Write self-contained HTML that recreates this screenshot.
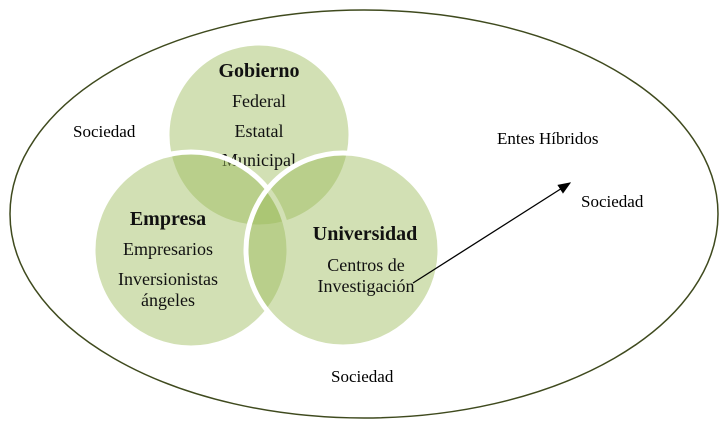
<!DOCTYPE html>
<html><head><style>body{margin:0;background:#fff}svg{display:block}</style></head><body>
<svg width="727" height="430" viewBox="0 0 727 430" font-family="Liberation Serif, serif">
<defs><marker id="a" markerWidth="10" markerHeight="8" refX="9" refY="4" orient="auto"><path d="M0,0L10,4L0,8z" fill="#000"/></marker></defs>
<rect width="727" height="430" fill="#fff"/>
<ellipse cx="364" cy="214" rx="354" ry="204" fill="none" stroke="#3f4a1e" stroke-width="1.5"/>
<g fill="rgb(155,187,89)" fill-opacity="0.45" stroke="#fff" stroke-width="5">
<circle cx="259" cy="135" r="92"/>
</g>
<g text-anchor="middle" fill="#111" font-size="18">
<text x="259" y="77" font-weight="bold" font-size="20">Gobierno</text>
<text x="259" y="107">Federal</text>
<text x="259" y="137">Estatal</text>
<text x="259" y="166">Municipal</text>
</g>
<g fill="rgb(155,187,89)" fill-opacity="0.45" stroke="#fff" stroke-width="5">
<circle cx="191" cy="250" r="98"/>
<circle cx="343" cy="250" r="97"/>
</g>
<g text-anchor="middle" fill="#111" font-size="18">
<text x="168" y="225" font-weight="bold" font-size="20">Empresa</text>
<text x="168" y="255">Empresarios</text>
<text x="168" y="285">Inversionistas</text>
<text x="168" y="306">ángeles</text>
<text x="365" y="240" font-weight="bold" font-size="20">Universidad</text>
<text x="366" y="271">Centros de</text>
<text x="366" y="292">Investigación</text>
</g>
<line x1="413" y1="283" x2="570" y2="183" stroke="#000" stroke-width="1.3" marker-end="url(#a)"/>
<g fill="#000" font-size="17">
<text x="73" y="137">Sociedad</text>
<text x="497" y="144">Entes Híbridos</text>
<text x="581" y="207">Sociedad</text>
<text x="331" y="382">Sociedad</text>
</g>
</svg>
</body></html>
